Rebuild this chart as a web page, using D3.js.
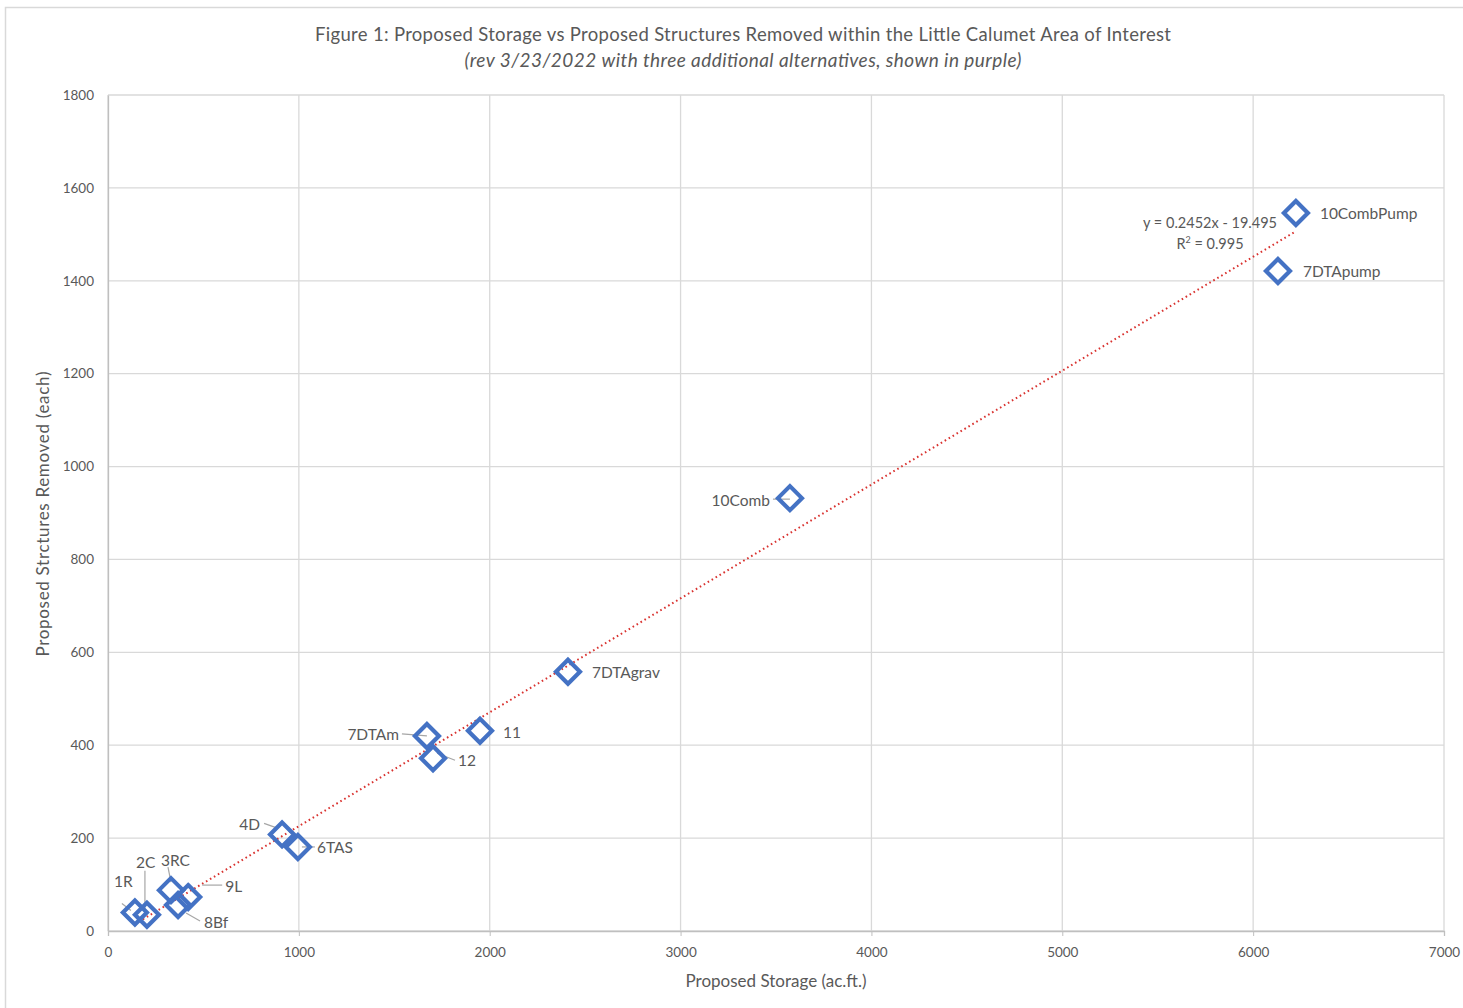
<!DOCTYPE html>
<html><head><meta charset="utf-8">
<script src="https://cdn.jsdelivr.net/npm/d3@7"></script>
<style>
body{margin:0;background:#fff;}
text{font-family:Lato,"Open Sans",sans-serif;}
</style></head>
<body>
<svg id="chart" width="1463" height="1008"></svg>
<script>
// Data
const names = ["1R","2C","3RC","8Bf","9L","4D","6TAS","7DTAm","12","11","7DTAgrav","10Comb","7DTApump","10CombPump"];
const storage = [141, 204, 330, 367, 420, 912, 995, 1671, 1703, 1949, 2410, 3573, 6130, 6224];
const removed = [40, 35, 88, 56, 73, 208, 181, 420, 372, 431, 558, 932, 1421, 1546];
const xTicks = [0,1000,2000,3000,4000,5000,6000,7000];
const yTicks = [0,200,400,600,800,1000,1200,1400,1600,1800];
const trendSlope = 0.2452, trendIntercept = -19.495;
// label offsets (dx, dy relative to point) and anchor
const labelDx = [-21, -11, -10, 26, 37, -22, 19, -28, 25, 23, 24, -20, 25, 24];
const labelDy = [-31, -52, -30, 18, -11, -10, 1, -1, 2, 2, 1, 2, 1, 1];
const labelAnchor = ["start","start","start","start","start","end","start","end","start","start","start","end","start","start"];

const svg = d3.select("#chart");

// outer border
svg.append("rect").attr("x",5.5).attr("y",7.5).attr("width",1470).attr("height",1010)
  .attr("fill","none").attr("stroke","#d9d9d9").attr("stroke-width",1.5);

const x = d3.scaleLinear().domain([0,7000]).range([108,1444]);
const y = d3.scaleLinear().domain([0,1800]).range([931,95]);

// gridlines
const g = svg.append("g");
g.selectAll(".vg").data(xTicks).join("line")
  .attr("x1",d=>x(d)).attr("x2",d=>x(d)).attr("y1",y(0)).attr("y2",y(1800))
  .attr("stroke","#d9d9d9").attr("stroke-width",1.3);
g.selectAll(".hg").data(yTicks).join("line")
  .attr("x1",x(0)).attr("x2",x(7000)).attr("y1",d=>y(d)).attr("y2",d=>y(d))
  .attr("stroke","#d9d9d9").attr("stroke-width",1.3);

// axes
const xAxis = d3.axisBottom(x).tickValues(xTicks).tickFormat(d3.format("d")).tickSize(5).tickPadding(11);
const xg = svg.append("g").attr("transform",`translate(0,${y(0)})`).call(xAxis);
xg.select(".domain").attr("stroke","#bfbfbf").attr("stroke-width",1.3);
xg.selectAll(".tick line").attr("stroke","#bfbfbf");
xg.selectAll("text").attr("fill","#595959").attr("font-size",13.5);

const yAxis = d3.axisLeft(y).tickValues(yTicks).tickFormat(d3.format("d")).tickSize(0).tickPadding(14);
const yg = svg.append("g").attr("transform",`translate(${x(0)},0)`).call(yAxis);
yg.select(".domain").attr("stroke","#bfbfbf").attr("stroke-width",1.3);
yg.selectAll("text").attr("fill","#595959").attr("font-size",13.5);

// trendline
const xmin = d3.min(storage), xmax = d3.max(storage);
svg.append("line")
  .attr("x1",x(xmin)).attr("y1",y(trendSlope*xmin+trendIntercept))
  .attr("x2",x(xmax)).attr("y2",y(trendSlope*xmax+trendIntercept))
  .attr("stroke","#d9322f").attr("stroke-width",2).attr("stroke-dasharray","1.6,3");

// data
const data = names.map((n,i)=>({n, xv:storage[i], yv:removed[i], dx:labelDx[i], dy:labelDy[i], a:labelAnchor[i]}));

// leader lines
const leaders = {"1R":[[-13,-9],[-4,-2]],"2C":[[-2,-44],[-2,-6]],"3RC":[[-3,-23],[0,-8]],"8Bf":[[22,16],[8,8]],
  "9L":[[34,-12],[14,-12]],"4D":[[-18,-11],[-4,-6]],"6TAS":[[17,0],[4,0]],"7DTAm":[[-25,-2],[0,0]],
  "12":[[22,2],[4,-5]],"10Comb":[[-17,1],[0,1]]};
data.forEach(d=>{
  const L = leaders[d.n];
  if(L){
    svg.append("line").attr("x1",x(d.xv)+L[0][0]).attr("y1",y(d.yv)+L[0][1])
      .attr("x2",x(d.xv)+L[1][0]).attr("y2",y(d.yv)+L[1][1])
      .attr("stroke","#a6a6a6").attr("stroke-width",1.2);
  }
});

// diamonds
const r = 12;
svg.selectAll(".pt").data(data).join("path")
  .attr("d",d=>{const cx=x(d.xv), cy=y(d.yv); return `M${cx},${cy-r}L${cx+r},${cy}L${cx},${cy+r}L${cx-r},${cy}Z`;})
  .attr("fill","none").attr("stroke","#4472c4").attr("stroke-width",4.2).attr("stroke-linejoin","miter");

// labels
svg.selectAll(".lbl").data(data).join("text")
  .attr("x",d=>x(d.xv)+d.dx).attr("y",d=>y(d.yv)+d.dy)
  .attr("dy","0.35em").attr("text-anchor",d=>d.a)
  .attr("font-size",15.5).attr("fill","#595959").text(d=>d.n);

// trend equation
svg.append("text").attr("x",1210).attr("y",223).attr("dy","0.35em").attr("text-anchor","middle")
  .attr("font-size",14.5).attr("fill","#595959").text("y = 0.2452x - 19.495");
const r2 = svg.append("text").attr("x",1210).attr("y",244).attr("dy","0.35em").attr("text-anchor","middle")
  .attr("font-size",14.5).attr("fill","#595959");
r2.append("tspan").text("R");
r2.append("tspan").attr("font-size",9).attr("dy","-6").text("2");
r2.append("tspan").attr("dy","6").text(" = 0.995");

// titles
svg.append("text").attr("x",743).attr("y",35).attr("dy","0.35em").attr("text-anchor","middle")
  .attr("font-size",18.5).attr("fill","#595959").attr("textLength",856).attr("lengthAdjust","spacing")
  .text("Figure 1:  Proposed Storage vs Proposed Structures Removed within the Little Calumet Area of Interest");
svg.append("text").attr("x",743).attr("y",60).attr("dy","0.35em").attr("text-anchor","middle")
  .attr("font-size",19).attr("font-style","italic").attr("fill","#595959").attr("textLength",557).attr("lengthAdjust","spacing")
  .text("(rev 3/23/2022 with three additional alternatives, shown in purple)");

svg.append("text").attr("x",776).attr("y",981).attr("dy","0.35em").attr("text-anchor","middle")
  .attr("font-size",17).attr("fill","#595959").text("Proposed Storage (ac.ft.)");
svg.append("text").attr("transform","translate(43,514) rotate(-90)").attr("dy","0.35em").attr("text-anchor","middle")
  .attr("font-size",17).attr("fill","#595959").attr("textLength",285).attr("lengthAdjust","spacing")
  .text("Proposed Strctures Removed (each)");
</script>
</body></html>
